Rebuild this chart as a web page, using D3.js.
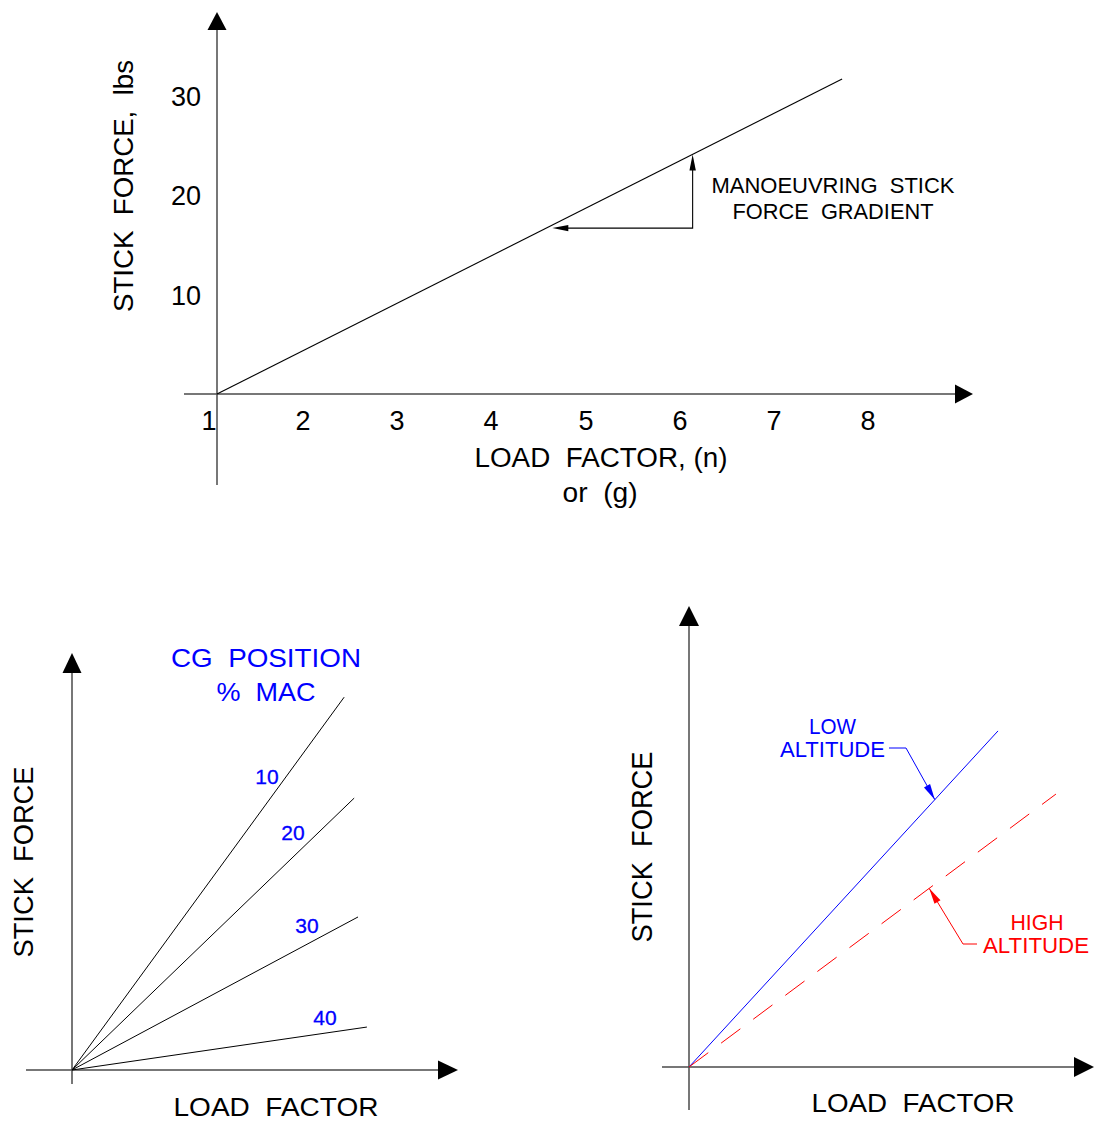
<!DOCTYPE html>
<html>
<head>
<meta charset="utf-8">
<script src="https://cdn.jsdelivr.net/npm/d3@7"></script>
<style>
  html, body { margin: 0; padding: 0; background: #fff; }
  svg text { font-family: "Liberation Sans", Arial, sans-serif; white-space: pre; }
</style>
</head>
<body>
<svg id="chart" width="1094" height="1121"></svg>
<script>
// ---------------- DATA ----------------
// Top panel: stick force vs load factor
const loadFactorTicks = [1, 2, 3, 4, 5, 6, 7, 8];
const stickForceTicks = [10, 20, 30];
const gradientLoad = [1, 7.65];
const gradientForce = [0, 31.7];
const annotationLoad = 6.06;     // vertical arrow of the gradient triangle
const annotationForce = 16.7;    // horizontal arrow of the gradient triangle

// Bottom-left panel: CG position (% MAC), arbitrary units
const cgPositions = ["10", "20", "30", "40"];
const cgEndLoad = [7.05, 7.31, 7.41, 7.64];
const cgEndForce = [8.94, 6.52, 3.67, 1.03];

// Bottom-right panel: altitude, arbitrary units
const altitudes = ["LOW", "HIGH"];
const altEndLoad = [7.63, 9.06];
const altEndForce = [7.29, 5.92];
const altPointerLoad = [6.07, 5.93];

// ---------------- HELPERS ----------------
const svg = d3.select("#chart");
const AXIS = "#4a4a4a";

function arrowHead(g, tx, ty, fx, fy, len, hw, color) {
  const dx = tx - fx, dy = ty - fy, L = Math.hypot(dx, dy);
  const ux = dx / L, uy = dy / L, px = -uy, py = ux;
  const bx = tx - ux * len, by = ty - uy * len;
  g.append("polygon")
    .attr("points", [[tx, ty], [bx + px * hw, by + py * hw], [bx - px * hw, by - py * hw]].map(p => p.join(",")).join(" "))
    .attr("fill", color);
}
function label(g, txt, x, y, opts) {
  const o = Object.assign({size: 26, color: "#000", anchor: "middle", rotate: 0, len: null}, opts || {});
  const t = g.append("text")
    .attr("transform", `translate(${x},${y}) rotate(${o.rotate})`)
    .attr("text-anchor", o.anchor)
    .attr("font-size", o.size)
    .attr("fill", o.color)
    .text(txt);
  if (o.len) t.attr("textLength", o.len).attr("lengthAdjust", "spacingAndGlyphs");
  return t;
}
function axes(g, ox, oy, xFrom, xTo, yFrom, yTo, head) {
  g.append("line").attr("x1", ox).attr("x2", ox).attr("y1", yFrom).attr("y2", yTo + head.len - 1)
    .attr("stroke", AXIS).attr("stroke-width", 1.5);
  arrowHead(g, ox, yTo, ox, yFrom, head.len, head.hw, "#000");
  g.append("line").attr("y1", oy).attr("y2", oy).attr("x1", xFrom).attr("x2", xTo - head.len + 1)
    .attr("stroke", AXIS).attr("stroke-width", 1.5);
  arrowHead(g, xTo, oy, xFrom, oy, head.len, head.hw, "#000");
}

// ---------------- TOP PANEL ----------------
{
  const g = svg.append("g");
  const x = d3.scaleLinear().domain([1, 8]).range([217, 875]);
  const y = d3.scaleLinear().domain([0, 30]).range([394, 96]);
  axes(g, x(1), y(0), 184, 973, 485, 12, {len: 18, hw: 9.5});

  loadFactorTicks.forEach(n => label(g, String(n), x(n) - 8 + (n > 4 ? 1 : 0), y(0) + 36, {size: 27}));
  stickForceTicks.forEach(v => label(g, String(v), 201, y(v) + 10, {size: 27, anchor: "end"}));

  const line = d3.line().x(d => x(d[0])).y(d => y(d[1]));
  g.append("path").datum(gradientLoad.map((n, i) => [n, gradientForce[i]]))
    .attr("d", line).attr("fill", "none").attr("stroke", "#000").attr("stroke-width", 1.1);

  const slope = (gradientForce[1] - gradientForce[0]) / (gradientLoad[1] - gradientLoad[0]);
  const fAt = n => gradientForce[0] + slope * (n - gradientLoad[0]);
  const nAt = f => gradientLoad[0] + (f - gradientForce[0]) / slope;
  const cx = x(annotationLoad), cy = y(annotationForce);
  const tipY = y(fAt(annotationLoad));
  const tipX = x(nAt(annotationForce)) + 6;
  g.append("path").attr("d", `M${tipX + 10},${cy} L${cx},${cy} L${cx},${tipY + 10}`)
    .attr("fill", "none").attr("stroke", "#000").attr("stroke-width", 1.1);
  arrowHead(g, cx, tipY, cx, cy, 16, 3.2, "#000");
  arrowHead(g, tipX, cy, cx, cy, 16, 3.2, "#000");

  label(g, "MANOEUVRING  STICK", 833, 193, {size: 22, len: 243});
  label(g, "FORCE  GRADIENT", 833, 219, {size: 22, len: 201});

  label(g, "STICK  FORCE,  lbs", 133, 186, {size: 28, rotate: -90, len: 252});
  label(g, "LOAD  FACTOR, (n)", 601, 467, {size: 27, len: 253});
  label(g, "or  (g)", 600, 502, {size: 27, len: 75});
}

// ---------------- BOTTOM-LEFT PANEL ----------------
{
  const g = svg.append("g");
  const x = d3.scaleLinear().domain([0, 10]).range([72, 458]);
  const y = d3.scaleLinear().domain([0, 10]).range([1070, 653]);
  axes(g, x(0), y(0), 26, 458, 1084, 653, {len: 20, hw: 9.5});

  const line = d3.line().x(d => x(d[0])).y(d => y(d[1]));
  cgPositions.forEach((p, i) => {
    g.append("path").datum([[0, 0], [cgEndLoad[i], cgEndForce[i]]])
      .attr("d", line).attr("fill", "none").attr("stroke", "#000").attr("stroke-width", 1);
  });
  const cgLabelPos = [[267, 784], [293, 840], [307, 933], [325, 1025]];
  cgPositions.forEach((p, i) => label(g, p, cgLabelPos[i][0], cgLabelPos[i][1], {size: 21, color: "#0000ff"})
    .attr("stroke", "#0000ff").attr("stroke-width", 0.3));

  label(g, "CG  POSITION", 266, 667, {size: 25, color: "#0000ff", len: 190});
  label(g, "%  MAC", 266, 701, {size: 25, color: "#0000ff", len: 99});
  label(g, "STICK  FORCE", 33, 862, {size: 28, rotate: -90, len: 191});
  label(g, "LOAD  FACTOR", 276, 1116, {size: 26, len: 205});
}

// ---------------- BOTTOM-RIGHT PANEL ----------------
{
  const g = svg.append("g");
  const x = d3.scaleLinear().domain([0, 10]).range([689, 1094]);
  const y = d3.scaleLinear().domain([0, 10]).range([1067, 606]);
  axes(g, x(0), y(0), 662, 1094, 1110, 606, {len: 20, hw: 10});

  const line = d3.line().x(d => x(d[0])).y(d => y(d[1]));
  const colors = ["#0000ff", "#ff0000"];
  altitudes.forEach((a, i) => {
    g.append("path").datum([[0, 0], [altEndLoad[i], altEndForce[i]]])
      .attr("d", line).attr("fill", "none").attr("stroke", colors[i]).attr("stroke-width", 1)
      .attr("stroke-dasharray", i === 1 ? "24,16" : null);
  });

  // Low altitude pointer
  const lowTip = [x(altPointerLoad[0]), y(altPointerLoad[0] * altEndForce[0] / altEndLoad[0])];
  g.append("path").attr("d", `M889,748 L906,748 L${lowTip[0]},${lowTip[1]}`)
    .attr("fill", "none").attr("stroke", colors[0]).attr("stroke-width", 1);
  arrowHead(g, lowTip[0], lowTip[1], 906, 748, 16, 3.5, colors[0]);
  label(g, "LOW", 832.5, 734, {size: 22, color: colors[0], len: 47});
  label(g, "ALTITUDE", 832.5, 757, {size: 22, color: colors[0], len: 105});

  // High altitude pointer
  const highTip = [x(altPointerLoad[1]), y(altPointerLoad[1] * altEndForce[1] / altEndLoad[1])];
  g.append("path").attr("d", `M977,944 L963,944 L${highTip[0]},${highTip[1]}`)
    .attr("fill", "none").attr("stroke", colors[1]).attr("stroke-width", 1);
  arrowHead(g, highTip[0], highTip[1], 963, 944, 16, 3.5, colors[1]);
  label(g, "HIGH", 1037, 930, {size: 22, color: colors[1], len: 53});
  label(g, "ALTITUDE", 1036, 953, {size: 22, color: colors[1], len: 106});

  label(g, "STICK  FORCE", 652, 847, {size: 29, rotate: -90, len: 191});
  label(g, "LOAD  FACTOR", 913, 1112, {size: 26, len: 203});
}
</script>
</body>
</html>
